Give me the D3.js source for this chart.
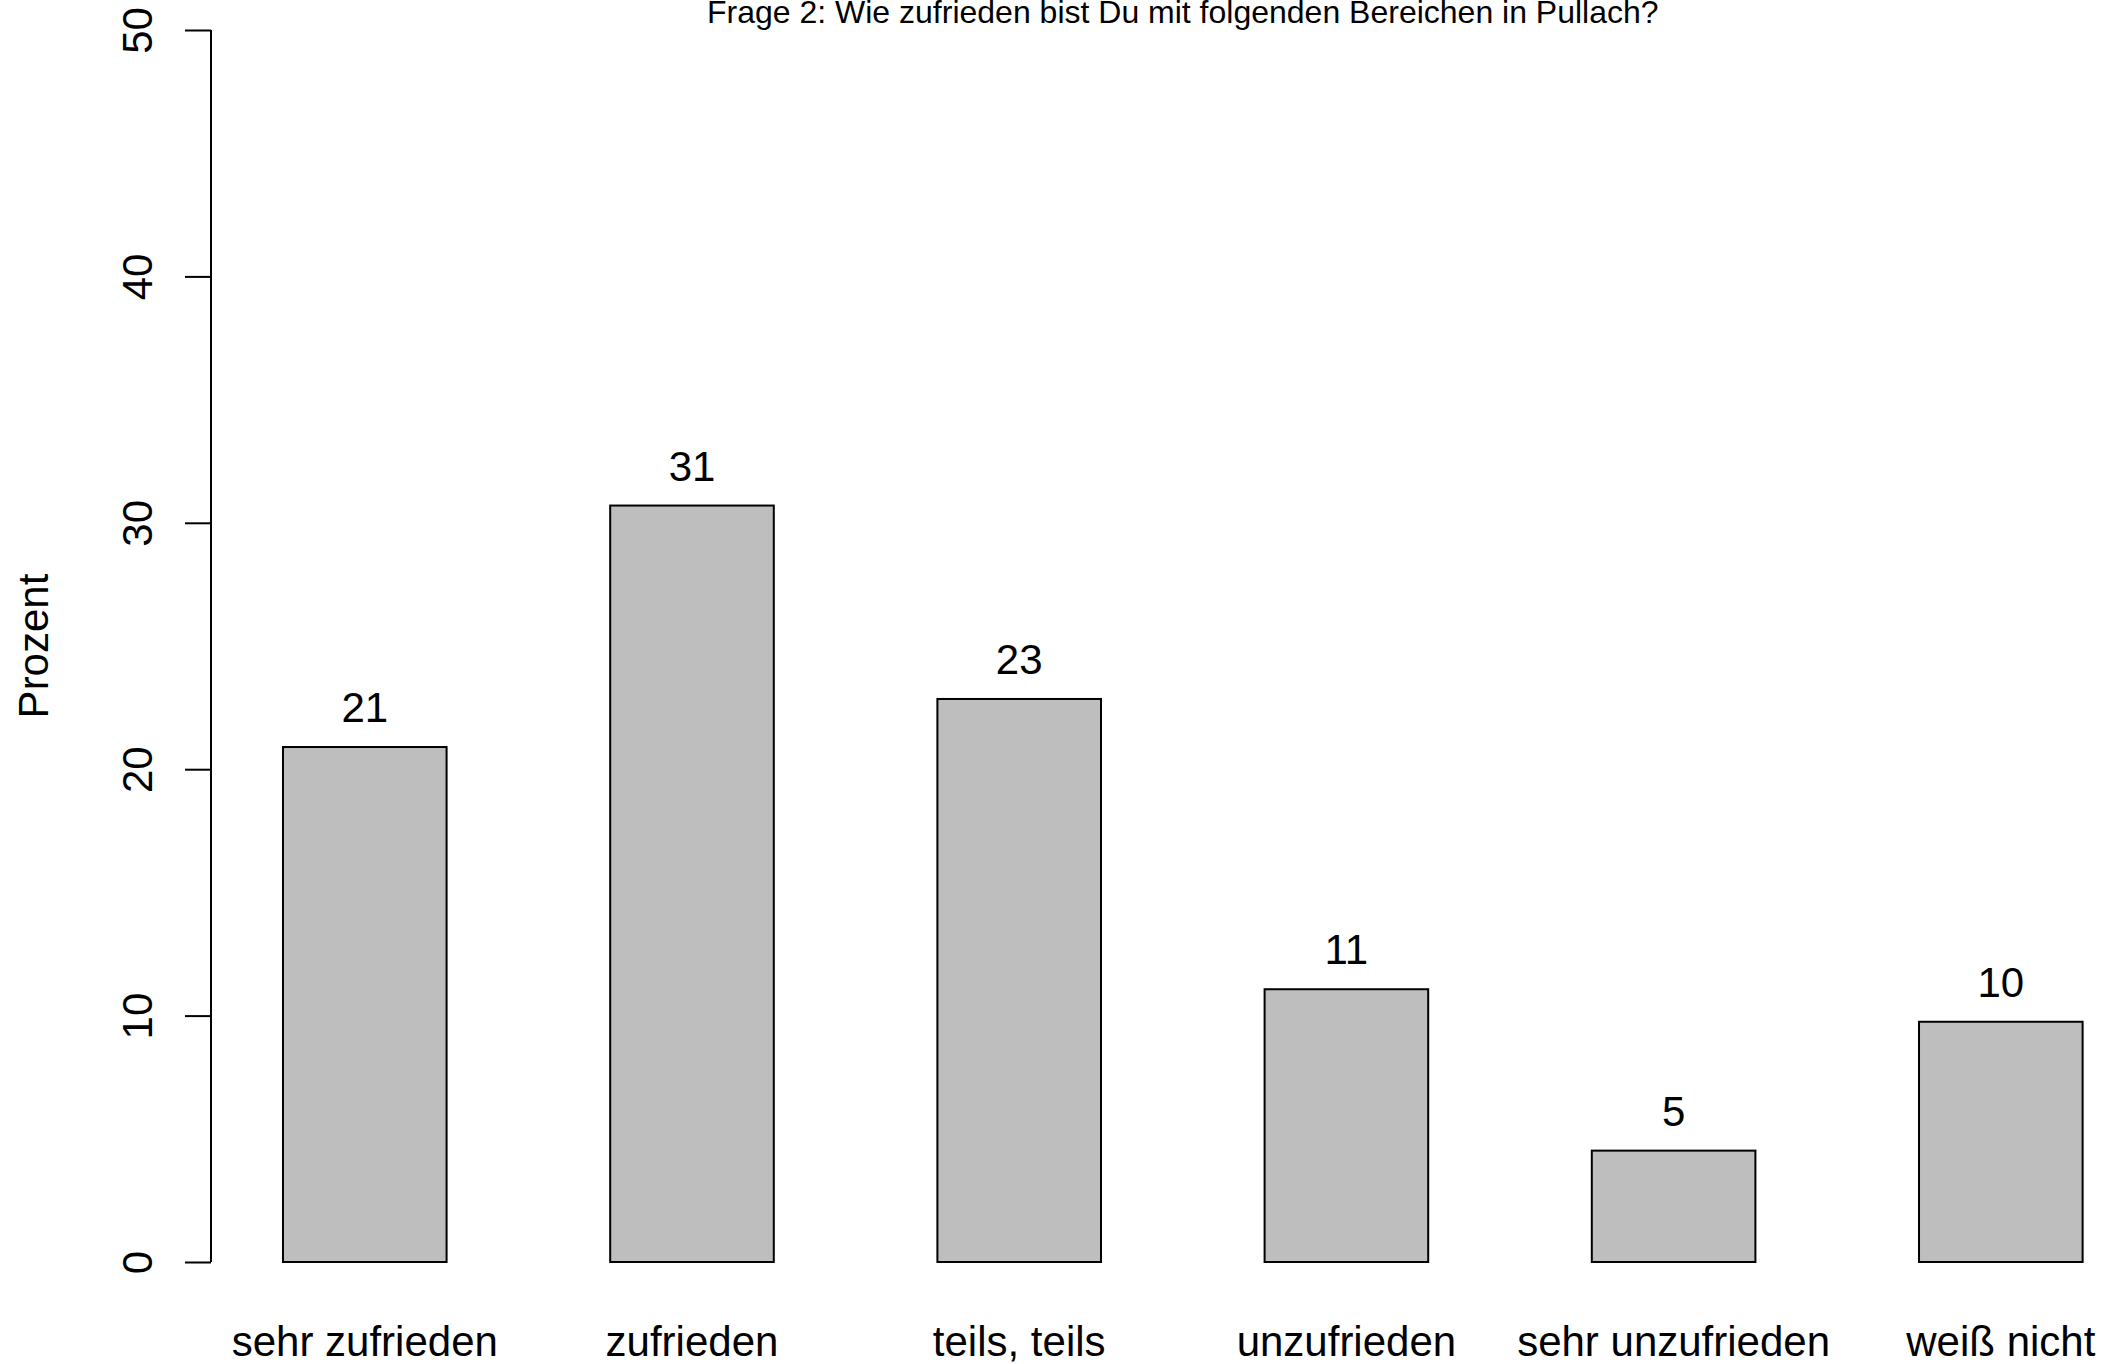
<!DOCTYPE html>
<html>
<head>
<meta charset="utf-8">
<script src="https://cdn.jsdelivr.net/npm/d3@7"></script>
<style>
  html, body { margin: 0; padding: 0; background: #fff; }
  svg { display: block; font-family: "Liberation Sans", Arial, Helvetica, sans-serif; }
</style>
</head>
<body>
<svg id="chart" width="2125" height="1364"></svg>
<script>
const categories = ["sehr zufrieden", "zufrieden", "teils, teils", "unzufrieden", "sehr unzufrieden", "weiß nicht"];
const values = [20.9, 30.7, 22.85, 11.07, 4.52, 9.75];
const valueLabels = ["21", "31", "23", "11", "5", "10"];
const yTicks = [0, 10, 20, 30, 40, 50];
const title = "Frage 2: Wie zufrieden bist Du mit folgenden Bereichen in Pullach?";
const yLabel = "Prozent";

(function () {
const svg = d3.select("#chart");
const pLeft = 211, pRight = 2154.6, pTop = 30, pBottom = 1262;
const fs = 42;

const x = d3.scaleBand().domain(categories).range([pLeft, pRight]).paddingInner(0.5).paddingOuter(0.22);
const y = d3.scaleLinear().domain([0, 50]).range([pBottom, pTop]);

// bars
svg.append("g").selectAll("rect").data(values).join("rect")
  .attr("x", (d, i) => x(categories[i]))
  .attr("y", d => y(d))
  .attr("width", x.bandwidth())
  .attr("height", d => y(0) - y(d))
  .attr("fill", "#BEBEBE")
  .attr("stroke", "#000")
  .attr("stroke-width", 2);

// value labels
svg.append("g").selectAll("text").data(values).join("text")
  .attr("x", (d, i) => x(categories[i]) + x.bandwidth() / 2)
  .attr("y", d => y(d) - 25)
  .attr("text-anchor", "middle")
  .attr("font-size", fs)
  .attr("fill", "#000")
  .text((d, i) => valueLabels[i]);

// category labels
svg.append("g").selectAll("text").data(categories).join("text")
  .attr("x", d => x(d) + x.bandwidth() / 2)
  .attr("y", 1356)
  .attr("text-anchor", "middle")
  .attr("font-size", fs)
  .attr("fill", "#000")
  .text(d => d);

// y axis
const yAxis = d3.axisLeft(y).tickValues(yTicks).tickSize(26).tickFormat(d3.format("d"));
const ag = svg.append("g").attr("transform", `translate(${pLeft},0)`).call(yAxis);
ag.select(".domain").attr("stroke", "#000").attr("stroke-width", 2).attr("d", `M0,${y(0)}V${y(50)}`);
ag.selectAll(".tick line").attr("stroke", "#000").attr("stroke-width", 2);
ag.selectAll(".tick text")
  .attr("font-size", fs)
  .attr("font-family", "'Liberation Sans', Arial, sans-serif")
  .attr("fill", "#000")
  .attr("x", null).attr("dy", null)
  .attr("text-anchor", "middle")
  .attr("transform", "translate(-59,0) rotate(-90)")
  .attr("y", 0);

// y label
svg.append("text")
  .attr("transform", `translate(48,${(pTop + pBottom) / 2}) rotate(-90)`)
  .attr("text-anchor", "middle")
  .attr("font-size", fs)
  .attr("fill", "#000")
  .text(yLabel);

// title
svg.append("text")
  .attr("x", (pLeft + pRight) / 2)
  .attr("y", 23)
  .attr("text-anchor", "middle")
  .attr("font-size", 32)
  .attr("fill", "#000")
  .text(title);
})();
</script>
</body>
</html>
